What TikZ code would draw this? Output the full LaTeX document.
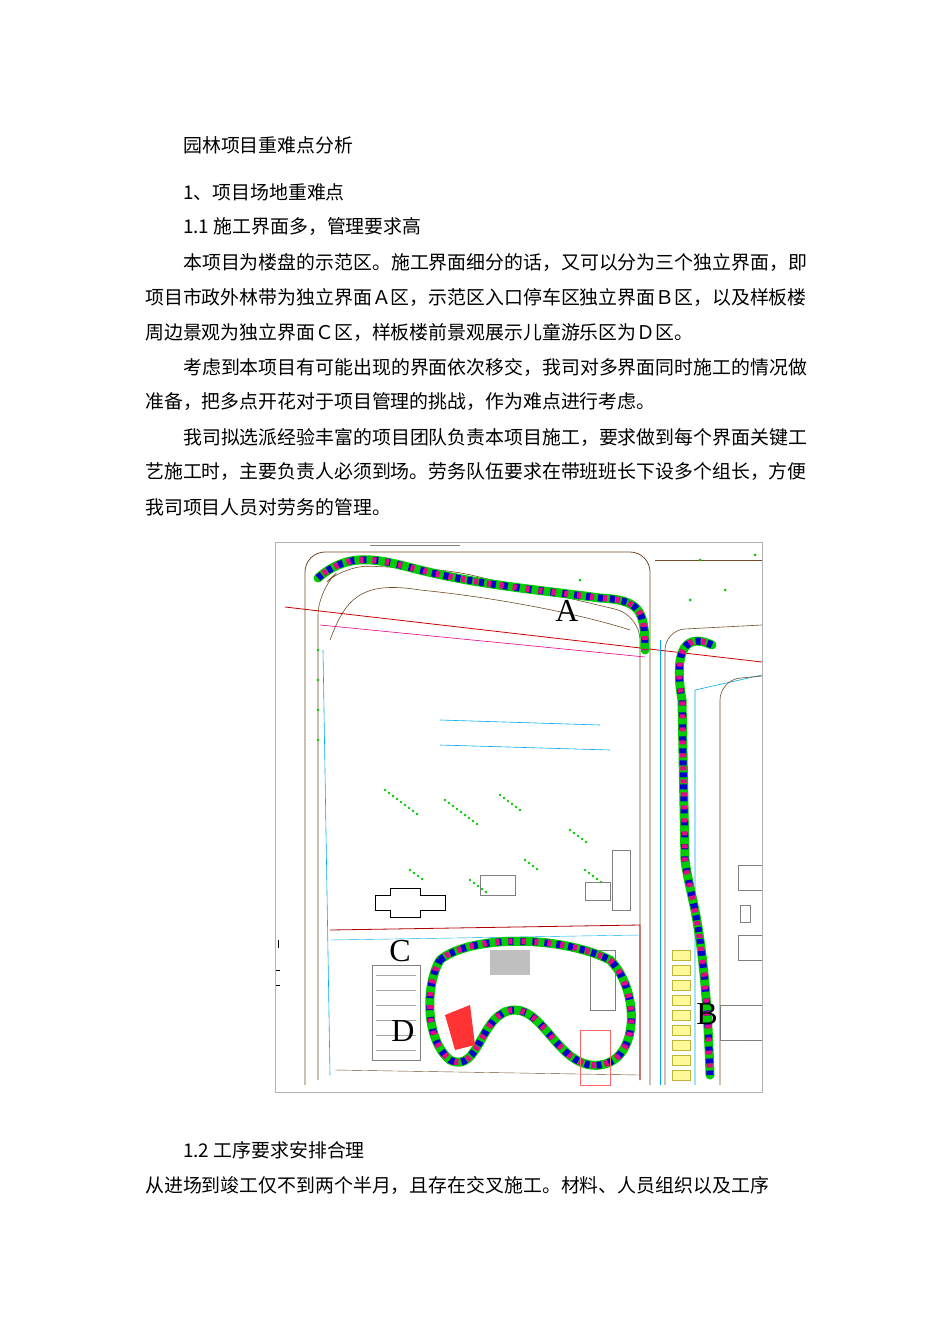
\documentclass[tikz,border=0pt]{standalone}
\usepackage{fontspec}
\newfontfamily\cjk{Noto Sans CJK SC}
\newfontfamily\ser{Liberation Serif}
\begin{document}
\begin{tikzpicture}[x=1pt,y=-1pt,
 txt/.style={anchor=west,inner sep=0pt,font=\cjk\fontsize{18.9}{18.9}\selectfont},
 lbl/.style={font=\ser\fontsize{32}{32}\selectfont,inner sep=0pt},
 veg/.style={line width=9pt,green!80!black,line cap=round},
 vegb/.style={line width=7pt,blue!80!black,dash pattern=on 5pt off 7pt},
 vegm/.style={line width=6pt,magenta,dash pattern=on 4pt off 9pt,dash phase=6pt}]
\useasboundingbox (0,0) rectangle (950,1344);
\fill[white] (0,0) rectangle (950,1344);
\node[txt] (t0) at (183,145) {园林项目重难点分析};
\node[txt] (t1) at (183,192) {1、项目场地重难点};
\node[txt] (t2) at (183,227) {1.1 施工界面多，管理要求高};
\node[txt] (t3) at (183,262) {本项目为楼盘的示范区。施工界面细分的话，又可以分为三个独立界面，即};
\node[txt] (t4) at (145,297) {项目市政外林带为独立界面Ａ区，示范区入口停车区独立界面Ｂ区，以及样板楼};
\node[txt] (t5) at (145,332) {周边景观为独立界面Ｃ区，样板楼前景观展示儿童游乐区为Ｄ区。};
\node[txt] (t6) at (183,367) {考虑到本项目有可能出现的界面依次移交，我司对多界面同时施工的情况做};
\node[txt] (t7) at (145,402) {准备，把多点开花对于项目管理的挑战，作为难点进行考虑。};
\node[txt] (t8) at (183,437) {我司拟选派经验丰富的项目团队负责本项目施工，要求做到每个界面关键工};
\node[txt] (t9) at (145,472) {艺施工时，主要负责人必须到场。劳务队伍要求在带班班长下设多个组长，方便};
\node[txt] (t10) at (145,507) {我司项目人员对劳务的管理。};
\node[txt] (t11) at (183,1150) {1.2 工序要求安排合理};
\node[txt] (t12) at (145,1185) {从进场到竣工仅不到两个半月，且存在交叉施工。材料、人员组织以及工序};
% map
\begin{scope}
\clip (275,542) rectangle (762,1092);
\draw[brown!60!black,line width=0.8pt,rounded corners=20pt] (305,1085)--(305,552)--(650,552)--(650,1085);
\draw[brown!60!black,line width=0.6pt,rounded corners=25pt] (318,1080)--(318,590)--(345,565)--(450,570)--(640,615)--(640,1080);
\draw[brown!60!black,line width=0.6pt] (330,640) .. controls (345,600) and (360,580) .. (420,590) .. controls (520,600) and (600,620) .. (630,630);
\draw[red!80!black,line width=0.8pt] (285,607)--(762,662);
\draw[magenta,line width=0.6pt] (320,625)--(645,657);
\draw[cyan,line width=0.6pt] (323,650)--(330,1075);
\draw[cyan,line width=0.6pt] (660,640)--(660,1085);
\draw[cyan,line width=0.6pt] (695,690)--(762,675) (695,690)--(695,1085);
\draw[cyan,line width=0.6pt] (440,720)--(600,725) (440,745)--(610,750);
\draw[brown!60!black,line width=0.6pt,rounded corners=20pt] (665,1085)--(665,630)--(762,625);
\draw[brown!60!black,line width=0.6pt,rounded corners=20pt] (720,1085)--(720,680)--(762,676);
\draw[brown!60!black] (655,560)--(762,560);
\draw[gray,line width=1pt] (370,545)--(460,545);
\draw[red!70!black,line width=0.8pt] (330,930)--(640,925)--(640,1080);
\draw[cyan] (330,940)--(640,935);
\draw[brown!60!black] (335,1070)--(640,1075);
% green dots
\foreach \x/\y/\n in {385/790/8,445/800/8,500/795/5,570/830/4,410/870/3,470/880/4,525/860/3,585/870/4}{
  \foreach \i in {0,...,\n}{\fill[green!80!black] (\x+\i*4,\y+\i*3) circle (1.3pt);}}
\foreach \y in {650,680,710,740}{\fill[green!80!black] (318,\y) circle (1.3pt);}
\foreach \x/\y in {580,690/600,700/560,660/480,790/520,770/395,800/610,755/555,725/590,700/330,980/345,960}{\fill[green!80!black] (\x,\y) circle (1.5pt);}
% buildings
\draw[black,line width=1pt] (375,895)--(390,895)--(390,888)--(420,888)--(420,895)--(445,895)--(445,910)--(420,910)--(420,917)--(390,917)--(390,910)--(375,910)--cycle;
\draw[gray] (480,875) rectangle (515,895) (585,882) rectangle (610,900) (738,865) rectangle (762,890) (738,935) rectangle (762,960) (740,905) rectangle (750,922) (720,1005) rectangle (762,1040) (612,850) rectangle (630,910);
\draw[gray,line width=0.5pt] (372,965) rectangle (420,1060);
\foreach \y in {975,990,...,1055}{\draw[gray!70] (376,\y)--(416,\y);}
\draw[gray] (590,950) rectangle (615,1010);
% vegetation A
\draw[veg] (318,578) .. controls (350,550) and (380,560) .. (420,570) .. controls (480,585) and (540,590) .. (600,598) .. controls (640,600) and (645,610) .. (645,650);
\draw[vegb] (318,578) .. controls (350,550) and (380,560) .. (420,570) .. controls (480,585) and (540,590) .. (600,598) .. controls (640,600) and (645,610) .. (645,650);
\draw[vegm] (318,578) .. controls (350,550) and (380,560) .. (420,570) .. controls (480,585) and (540,590) .. (600,598) .. controls (640,600) and (645,610) .. (645,650);
% vegetation B
\draw[veg] (712,645) .. controls (680,630) and (675,660) .. (682,700) -- (685,860) .. controls (690,900) and (705,920) .. (710,1075);
\draw[vegb] (712,645) .. controls (680,630) and (675,660) .. (682,700) -- (685,860) .. controls (690,900) and (705,920) .. (710,1075);
\draw[vegm] (712,645) .. controls (680,630) and (675,660) .. (682,700) -- (685,860) .. controls (690,900) and (705,920) .. (710,1075);
\foreach \y in {950,965,...,1070}{\draw[yellow!70!black,fill=yellow!40] (672,\y) rectangle (690,\y+10);}
% vegetation C/D
\draw[veg] (440,960) .. controls (470,935) and (560,935) .. (610,960) .. controls (640,990) and (640,1060) .. (600,1065) .. controls (560,1070) and (545,1010) .. (515,1010) .. controls (480,1010) and (480,1075) .. (450,1060) .. controls (425,1040) and (425,985) .. (440,960);
\draw[vegb] (440,960) .. controls (470,935) and (560,935) .. (610,960) .. controls (640,990) and (640,1060) .. (600,1065) .. controls (560,1070) and (545,1010) .. (515,1010) .. controls (480,1010) and (480,1075) .. (450,1060) .. controls (425,1040) and (425,985) .. (440,960);
\draw[vegm] (440,960) .. controls (470,935) and (560,935) .. (610,960) .. controls (640,990) and (640,1060) .. (600,1065) .. controls (560,1070) and (545,1010) .. (515,1010) .. controls (480,1010) and (480,1075) .. (450,1060) .. controls (425,1040) and (425,985) .. (440,960);
\fill[gray!50] (490,950) rectangle (530,975);
\fill[red!80] (445,1015) -- (470,1005) -- (475,1045) -- (455,1050) -- cycle;
\draw[red!60] (580,1030) rectangle (610,1085);
\draw[black] (278,940)--(278,948) (275,970)--(280,970) (275,985)--(280,985);
\end{scope}
\draw[gray!60,line width=0.6pt] (275,542) rectangle (762,1092);
\node[lbl] (A) at (567,611) {A};
\node[lbl] (B) at (707,1014) {B};
\node[lbl] (C) at (400,951) {C};
\node[lbl] (D) at (403,1031) {D};
\end{tikzpicture}
\end{document}
